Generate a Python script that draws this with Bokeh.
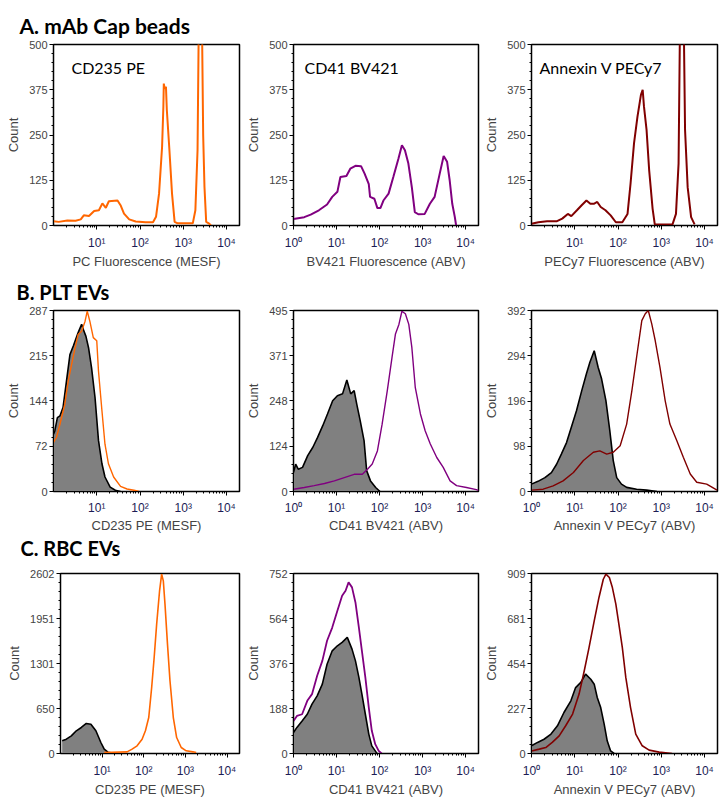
import numpy as np
from bokeh.plotting import figure
from bokeh.models import Range1d, FixedTicker, CustomJSTickFormatter, Label, Title
from bokeh.layouts import row, column
from bokeh.embed import file_html
from bokeh.resources import INLINE

ORANGE = "#FF6600"
PURPLE = "#800080"
DARKRED = "#800000"
GRAY = "#808080"

# ---------------- data (x in log10 units of fluorescence, y = count) ----------------
# A. mAb Cap beads
a1_pe_log = [0.0, 0.12, 0.32, 0.51, 0.63, 0.70, 0.82, 0.94, 1.05, 1.13, 1.21, 1.28, 1.48, 1.55, 1.63, 1.75,
             1.90, 2.13, 2.30, 2.37, 2.44, 2.51, 2.54, 2.55, 2.57, 2.60, 2.62, 2.68, 2.74, 2.80, 2.87, 3.22,
             3.28, 3.33, 3.37, 3.40, 3.42, 3.46, 3.49, 3.53, 3.60, 3.64]
a1_pe_count = [12, 10, 14, 13, 17, 28, 26, 40, 42, 61, 49, 67, 69, 56, 33, 17,
               11, 9, 9, 24, 88, 217, 328, 392, 378, 383, 319, 208, 88, 10, 6, 6,
               42, 208, 700, 760, 700, 250, 107, 10, 5, 0]

a2_bv_log = [0.0, 0.25, 0.40, 0.59, 0.78, 0.90, 1.02, 1.09, 1.23, 1.32, 1.44, 1.57, 1.65, 1.75, 1.78, 1.88,
             1.95, 2.02, 2.09, 2.21, 2.32, 2.44, 2.52, 2.59, 2.67, 2.75, 2.82, 2.90, 3.05, 3.17, 3.28, 3.40,
             3.49, 3.57, 3.63, 3.69, 3.75, 3.78]
a2_bv_count = [18, 23, 30, 42, 58, 79, 93, 134, 137, 157, 165, 164, 144, 114, 79, 74,
               48, 48, 69, 88, 134, 185, 222, 208, 171, 106, 37, 31, 32, 60, 79, 144,
               192, 176, 125, 60, 23, 0]

a3_cy_log = [0.0, 0.16, 0.36, 0.59, 0.71, 0.84, 0.92, 1.05, 1.16, 1.27, 1.36, 1.44, 1.52, 1.60, 1.71, 1.83,
             1.95, 2.10, 2.22, 2.29, 2.37, 2.45, 2.53, 2.57, 2.60, 2.66, 2.72, 2.80, 2.85, 2.91, 3.26, 3.34,
             3.40, 3.45, 3.50, 3.55, 3.61, 3.69, 3.77]
a3_cy_count = [5, 9, 12, 12, 19, 32, 26, 42, 56, 69, 60, 60, 65, 51, 42, 28,
               9, 9, 32, 116, 227, 301, 361, 375, 329, 264, 153, 46, 3, 3, 3, 32,
               171, 760, 760, 264, 106, 23, 3]

# B. PLT EVs
b1_unst_log = [0.0, 0.03, 0.09, 0.15, 0.22, 0.26, 0.30, 0.38, 0.46, 0.57, 0.65, 0.69, 0.75, 0.81, 0.88, 0.96,
               1.04, 1.12, 1.19, 1.31, 1.43, 1.55]
b1_unst_count = [91, 96, 117, 120, 133, 154, 175, 217, 231, 252, 265, 257, 246, 228, 196, 149,
                 81, 44, 23, 7, 2, 0]
b1_pe_log = [0.0, 0.07, 0.15, 0.26, 0.34, 0.42, 0.50, 0.57, 0.65, 0.73, 0.78, 0.84, 0.92, 1.00, 1.04, 1.12,
             1.19, 1.27, 1.39, 1.55, 1.70, 1.86, 1.98]
b1_pe_count = [78, 86, 107, 138, 175, 202, 228, 249, 254, 270, 286, 270, 244, 239, 191, 128,
               75, 44, 23, 8, 4, 2, 0]

b2_unst_log = [0.0, 0.05, 0.11, 0.21, 0.33, 0.45, 0.56, 0.68, 0.79, 0.91, 1.02, 1.14, 1.24, 1.33, 1.41, 1.47,
               1.55, 1.64, 1.70, 1.79, 1.91, 2.01]
b2_unst_count = [52, 75, 61, 66, 98, 121, 148, 180, 212, 248, 262, 267, 305, 267, 276, 239,
                 194, 139, 57, 29, 11, 0]
b2_bv_log = [0.0, 0.25, 0.48, 0.72, 0.95, 1.18, 1.41, 1.60, 1.72, 1.83, 1.95, 2.06, 2.18, 2.29, 2.37, 2.45,
             2.52, 2.60, 2.68, 2.75, 2.83, 2.95, 3.06, 3.18, 3.33, 3.48, 3.64, 3.79, 4.02, 4.25, 4.30]
b2_bv_count = [6, 11, 16, 22, 29, 38, 47, 47, 61, 75, 111, 184, 276, 367, 431, 457,
               493, 486, 457, 395, 285, 212, 166, 130, 93, 66, 29, 16, 11, 5, 3]

b3_unst_log = [0.0, 0.15, 0.31, 0.46, 0.58, 0.69, 0.81, 0.93, 1.04, 1.16, 1.27, 1.35, 1.45, 1.54, 1.62, 1.72,
               1.81, 1.89, 1.97, 2.08, 2.20, 2.43, 2.66, 2.90]
b3_unst_count = [16, 22, 30, 41, 59, 81, 106, 142, 175, 218, 255, 280, 305, 269, 244, 197,
                 132, 67, 30, 16, 9, 5, 3, 0]
b3_cy_log = [0.0, 0.27, 0.50, 0.73, 0.97, 1.20, 1.43, 1.58, 1.74, 1.89, 2.05, 2.20, 2.32, 2.43, 2.55, 2.63,
             2.70, 2.78, 2.86, 2.97, 3.09, 3.20, 3.36, 3.51, 3.67, 3.82, 4.05, 4.29]
b3_cy_count = [3, 5, 12, 23, 41, 67, 85, 88, 81, 85, 99, 146, 218, 291, 370, 385,
               392, 363, 327, 269, 197, 146, 110, 74, 38, 20, 16, 3]

# C. RBC EVs
c1_unst_log = [0.04, 0.14, 0.26, 0.38, 0.50, 0.62, 0.73, 0.85, 0.97, 1.05, 1.14, 1.21]
c1_unst_count = [183, 207, 255, 328, 376, 434, 424, 328, 159, 63, 19, 10]
c1_pe_log = [1.05, 1.60, 1.72, 1.84, 1.96, 2.04, 2.12, 2.19, 2.25, 2.31, 2.38, 2.43, 2.47, 2.51, 2.57, 2.63,
             2.71, 2.79, 2.90, 3.02, 3.18, 3.26]
c1_pe_count = [14, 24, 63, 111, 207, 328, 520, 954, 1388, 1870, 2352, 2592, 2496, 2159, 1581, 1051,
               520, 231, 87, 39, 24, 14]

c2_unst_log = [0.0, 0.08, 0.20, 0.32, 0.43, 0.55, 0.67, 0.78, 0.90, 1.02, 1.13, 1.25, 1.36, 1.44, 1.52, 1.59,
               1.67, 1.75, 1.82, 1.90, 1.94]
c2_unst_count = [88, 109, 136, 164, 206, 241, 290, 373, 429, 450, 464, 485, 436, 387, 318, 248,
                 164, 81, 32, 11, 0]
c2_bv_log = [0.0, 0.08, 0.20, 0.32, 0.43, 0.55, 0.67, 0.78, 0.90, 1.02, 1.13, 1.21, 1.28, 1.36, 1.44, 1.52,
             1.59, 1.67, 1.75, 1.82, 1.90, 1.98, 2.05]
c2_bv_count = [136, 157, 164, 220, 248, 325, 387, 471, 526, 596, 659, 680, 715, 694, 631, 526,
               429, 318, 192, 95, 39, 11, 0]

c3_unst_log = [0.0, 0.14, 0.29, 0.45, 0.60, 0.75, 0.91, 1.02, 1.14, 1.25, 1.37, 1.45, 1.52, 1.60, 1.68, 1.75,
               1.83, 1.91]
c3_unst_count = [39, 56, 72, 98, 140, 207, 266, 333, 359, 401, 375, 350, 283, 232, 148, 64,
                 13, 0]
c3_cy_log = [0.0, 0.18, 0.33, 0.48, 0.64, 0.79, 0.95, 1.10, 1.22, 1.33, 1.45, 1.56, 1.66, 1.72, 1.80, 1.87,
             1.95, 2.02, 2.10, 2.18, 2.29, 2.41, 2.56, 2.72, 2.95, 3.25]
c3_cy_count = [13, 22, 30, 56, 89, 140, 199, 300, 418, 535, 670, 788, 880, 906, 889, 838,
               754, 653, 535, 384, 232, 98, 39, 17, 7, 0]

# y-axis tick labels per panel
a_yticks = [0, 125, 250, 375, 500]
b1_yticks = [0, 72, 144, 215, 287]
b2_yticks = [0, 124, 248, 371, 495]
b3_yticks = [0, 98, 196, 294, 392]
c1_yticks = [0, 650, 1301, 1951, 2602]
c2_yticks = [0, 188, 376, 564, 752]
c3_yticks = [0, 227, 454, 681, 909]

x_exponents_all = [0, 1, 2, 3, 4]
x_exponents_hidden0 = [1, 2, 3, 4]

section_titles = ["A. mAb Cap beads", "B. PLT EVs", "C. RBC EVs"]
inset_labels = ["CD235 PE", "CD41 BV421", "Annexin V PECy7"]
xlabels_a = ["PC Fluorescence (MESF)", "BV421 Fluorescence (ABV)", "PECy7 Fluorescence (ABV)"]
xlabels_bc = ["CD235 PE (MESF)", "CD41 BV421 (ABV)", "Annexin V PECy7 (ABV)"]

# ---------------- styling / layout helpers ----------------
SUP = CustomJSTickFormatter(code="""
const sup = ["\u2070", "\u00b9", "\u00b2", "\u00b3", "\u2074", "\u2075"];
const e = Math.round(Math.log10(tick));
return "10" + sup[e];
""")

X_END = 10 ** 4.3
x_minor = [m * 10 ** d for d in range(0, 5) for m in range(2, 10) if m * 10 ** d <= X_END]

AX_FONT = "Liberation Sans"

COL_W = [243, 238, 243]
COL_L = [53, 50, 50]
COL_R = [4, 3, 7]
ROW_H = [271, 291, 241]
ROW_T = [44, 39, 11]
ROW_B = [46, 71, 50]
ROW_TICK_STANDOFF = [6, 5, 6]
ROW_XLABEL_STANDOFF = [1, 0, 1]


def section_title(text, offset, standoff, size="20px", valign="bottom"):
    return Title(text=text, align="left", offset=offset, standoff=standoff, vertical_align=valign,
                 text_font="Lato", text_font_size=size, text_font_style="bold",
                 text_color="black", text_line_height=1.0)


def make_panel(r, c, yt, xlabel, exps, title=None, left=None):
    ymin_list = []
    for a, b in zip(yt[:-1], yt[1:]):
        ymin_list += list(np.linspace(a, b, 6)[1:-1])
    p = figure(width=COL_W[c], height=ROW_H[r], x_axis_type="log",
               x_range=Range1d(1, X_END), y_range=Range1d(0, yt[-1]),
               output_backend="svg", toolbar_location=None, title=title,
               min_border_left=left if left is not None else COL_L[c],
               min_border_right=COL_R[c], min_border_top=ROW_T[r], min_border_bottom=ROW_B[r])
    p.xgrid.visible = False
    p.ygrid.visible = False
    p.outline_line_color = "black"
    p.outline_line_width = 1.5
    p.background_fill_color = "white"
    p.border_fill_color = "white"

    xa = p.xaxis[0]
    xa.ticker = FixedTicker(ticks=[10 ** e for e in exps], minor_ticks=x_minor)
    xa.formatter = SUP
    xa.major_label_text_font = AX_FONT
    xa.major_label_text_font_size = "12px"
    xa.major_label_text_color = "#1c1c55"
    xa.major_tick_out = 4
    xa.major_tick_in = 0
    xa.minor_tick_out = 2
    xa.minor_tick_in = 0
    xa.major_label_standoff = ROW_TICK_STANDOFF[r]
    xa.axis_label = xlabel
    xa.axis_label_text_font = AX_FONT
    xa.axis_label_text_font_size = "13px"
    xa.axis_label_text_font_style = "normal"
    xa.axis_label_standoff = ROW_XLABEL_STANDOFF[r]
    xa.axis_line_color = "black"

    ya = p.yaxis[0]
    ya.ticker = FixedTicker(ticks=yt, minor_ticks=ymin_list)
    ya.major_label_text_font = AX_FONT
    ya.major_label_text_font_size = "11px"
    ya.major_tick_out = 4
    ya.major_tick_in = 0
    ya.minor_tick_out = 2
    ya.minor_tick_in = 0
    ya.major_label_standoff = 2
    ya.axis_label = "Count"
    ya.axis_label_text_font = AX_FONT
    ya.axis_label_text_font_size = "13px"
    ya.axis_label_text_font_style = "normal"
    ya.axis_label_standoff = 5
    ya.axis_line_color = "black"
    return p


def add_fill(p, logx, counts):
    xs = [10 ** v for v in logx]
    p.varea(x=xs, y1=[0] * len(xs), y2=counts, fill_color=GRAY)
    p.line(xs, counts, line_color="black", line_width=1.6)


def add_line(p, logx, counts, color, width=1.6):
    xs = [10 ** v for v in logx]
    p.line(xs, counts, line_color=color, line_width=width)


def add_inset(p, text, x, y):
    p.add_layout(Label(x=x, y=y, text=text, text_font="Lato", text_font_size="16px",
                       text_baseline="top", text_color="black"))


# Row A
pa1 = make_panel(0, 0, a_yticks, xlabels_a[0], x_exponents_hidden0,
                 title=section_title(section_titles[0], -34, 14, "21px"))
add_line(pa1, a1_pe_log, a1_pe_count, ORANGE, 2)
add_inset(pa1, inset_labels[0], 2.6, 462)

pa2 = make_panel(0, 1, a_yticks, xlabels_a[1], x_exponents_all)
add_line(pa2, a2_bv_log, a2_bv_count, PURPLE, 2)
add_inset(pa2, inset_labels[1], 1.8, 462)

pa3 = make_panel(0, 2, a_yticks, xlabels_a[2], x_exponents_hidden0)
add_line(pa3, a3_cy_log, a3_cy_count, DARKRED, 2)
add_inset(pa3, inset_labels[2], 1.53, 462)

# Row B (its first panel also carries the heading of row C underneath its axis)
pb1 = make_panel(1, 0, b1_yticks, xlabels_bc[0], x_exponents_hidden0,
                 title=section_title(section_titles[1], -37, 13))
pb1.add_layout(section_title(section_titles[2], -33, 0, valign="top"), "below")
add_fill(pb1, b1_unst_log, b1_unst_count)
add_line(pb1, b1_pe_log, b1_pe_count, ORANGE, 1.4)

pb2 = make_panel(1, 1, b2_yticks, xlabels_bc[1], x_exponents_all)
add_fill(pb2, b2_unst_log, b2_unst_count)
add_line(pb2, b2_bv_log, b2_bv_count, PURPLE, 1.4)

pb3 = make_panel(1, 2, b3_yticks, xlabels_bc[2], x_exponents_all)
add_fill(pb3, b3_unst_log, b3_unst_count)
add_line(pb3, b3_cy_log, b3_cy_count, DARKRED, 1.4)

# Row C
pc1 = make_panel(2, 0, c1_yticks, xlabels_bc[0], x_exponents_hidden0, left=60)
add_fill(pc1, c1_unst_log, c1_unst_count)
add_line(pc1, c1_pe_log, c1_pe_count, ORANGE, 1.6)

pc2 = make_panel(2, 1, c2_yticks, xlabels_bc[1], x_exponents_all)
add_fill(pc2, c2_unst_log, c2_unst_count)
add_line(pc2, c2_bv_log, c2_bv_count, PURPLE, 1.8)

pc3 = make_panel(2, 2, c3_yticks, xlabels_bc[2], x_exponents_all)
add_fill(pc3, c3_unst_log, c3_unst_count)
add_line(pc3, c3_cy_log, c3_cy_count, DARKRED, 1.6)

layout = column(row(pa1, pa2, pa3, spacing=0), row(pb1, pb2, pb3, spacing=0),
                row(pc1, pc2, pc3, spacing=0), spacing=0)

open("out.html", "w").write(file_html(layout, INLINE))
